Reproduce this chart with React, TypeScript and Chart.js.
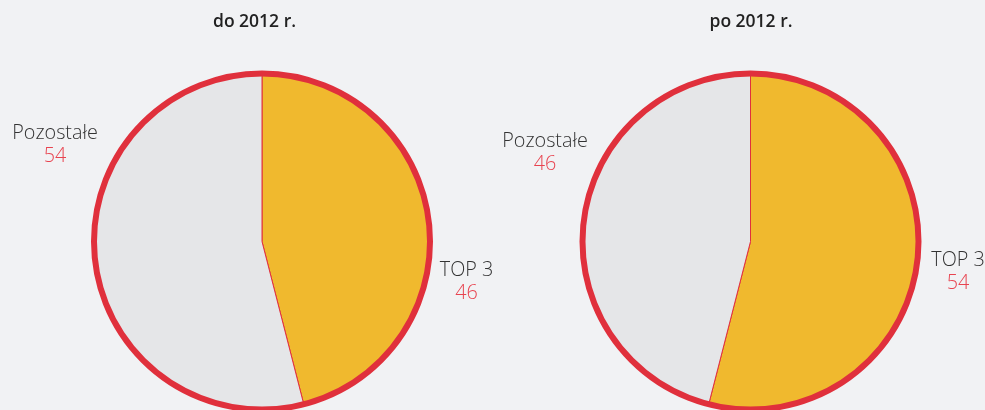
import React, { useEffect, useRef } from "react";
import { Chart, registerables } from "chart.js";

Chart.register(...registerables);

const categories = ["TOP 3", "Pozostałe"];
const before2012 = [46, 54];
const after2012 = [54, 46];
const titles = ["do 2012 r.", "po 2012 r."];

const BG = "#f1f2f4";
const RED = "#e0303c";
const VALUE_RED = "#e8434f";
const COLORS = ["#f0b92e", "#e5e6e8"];

type LabelPos = { dx: number; dy: number };

function makeChart(
  canvas: HTMLCanvasElement,
  values: number[],
  title: string,
  padLeft: number,
  titleDx: number,
  labelPos: LabelPos[]
) {
  const ringPlugin = {
    id: "ringAndLabels",
    afterDatasetsDraw(chart: any) {
      const ctx = chart.ctx as CanvasRenderingContext2D;
      const meta = chart.getDatasetMeta(0);
      const arc = meta.data[0] as any;
      const cx = arc.x;
      const cy = arc.y;
      const r = arc.outerRadius;
      ctx.save();
      ctx.beginPath();
      ctx.arc(cx, cy, r, 0, Math.PI * 2);
      ctx.lineWidth = 6;
      ctx.strokeStyle = RED;
      ctx.stroke();

      ctx.textAlign = "center";
      ctx.textBaseline = "middle";
      ctx.font = "600 17.5px 'Open Sans'";
      ctx.fillStyle = "#222";
      ctx.fillText(title, cx + titleDx, 22);

      labelPos.forEach((p, i) => {
        ctx.font = "300 19.8px 'Open Sans'";
        ctx.fillStyle = "#333";
        ctx.fillText(categories[i], cx + p.dx, cy + p.dy);
        ctx.fillStyle = VALUE_RED;
        ctx.fillText(String(values[i]), cx + p.dx, cy + p.dy + 23);
      });
      ctx.restore();
    },
  };

  return new Chart(canvas, {
    type: "pie",
    data: {
      labels: categories,
      datasets: [
        {
          data: values,
          backgroundColor: COLORS,
          borderColor: RED,
          borderWidth: 1,
          radius: 168,
        } as any,
      ],
    },
    options: {
      responsive: false,
      animation: false,
      layout: { padding: { left: padLeft, top: 73, right: 0, bottom: 0 } },
      plugins: {
        legend: { display: false },
        tooltip: { enabled: false },
        title: { display: false },
      },
    },
    plugins: [ringPlugin],
  });
}

export default function App() {
  const leftRef = useRef<HTMLCanvasElement>(null);
  const rightRef = useRef<HTMLCanvasElement>(null);

  useEffect(() => {
    document.body.style.margin = "0";
    document.body.style.background = BG;
    const c1 = makeChart(leftRef.current!, before2012, titles[0], 32, -7.5, [
      { dx: 204.5, dy: 28.5 },
      { dx: -207, dy: -108 },
    ]);
    const c2 = makeChart(rightRef.current!, after2012, titles[1], 24, 0.5, [
      { dx: 207.5, dy: 18.5 },
      { dx: -205.5, dy: -100.5 },
    ]);
    return () => {
      c1.destroy();
      c2.destroy();
    };
  }, []);

  return (
    <div
      style={{
        position: "relative",
        width: 985,
        height: 410,
        background: BG,
        overflow: "hidden",
      }}
    >
      <canvas
        ref={leftRef}
        width={492}
        height={410}
        style={{ position: "absolute", left: 0, top: 0, width: 492, height: 410 }}
      />
      <canvas
        ref={rightRef}
        width={493}
        height={410}
        style={{ position: "absolute", left: 492, top: 0, width: 493, height: 410 }}
      />
    </div>
  );
}
